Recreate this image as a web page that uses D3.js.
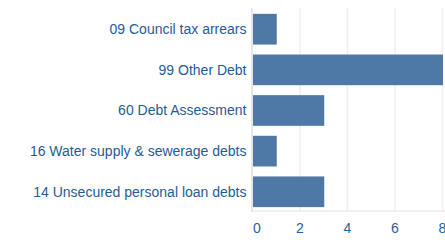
<!DOCTYPE html>
<html>
<head>
<meta charset="utf-8">
<script src="https://cdn.jsdelivr.net/npm/d3@7"></script>
<style>
  body { margin: 0; background: #fff; }
  svg text { font-family: "Liberation Sans", Arial, sans-serif; }
</style>
</head>
<body>
<div id="chart"></div>
<script>
// chart data
const categories = [
  '09 Council tax arrears',
  '99 Other Debt',
  '60 Debt Assessment',
  '16 Water supply & sewerage debts',
  '14 Unsecured personal loan debts'
];
const counts = [1, 8, 3, 1, 3];
const xTicks = [0, 2, 4, 6, 8];

const width = 445;
const height = 244;
const margin = {top: 9, right: 2, bottom: 32, left: 252.5};

const svg = d3.select('#chart')
  .append('svg')
  .attr('width', width)
  .attr('height', height);

const x = d3.scaleLinear()
  .domain([0, 8])
  .range([margin.left, width - margin.right - 0.5]);

const y = d3.scaleBand()
  .domain(categories)
  .range([margin.top, height - margin.bottom])
  .paddingInner(0.245)
  .paddingOuter(0.12);

// grid lines
svg.append('g')
  .selectAll('line')
  .data(xTicks.slice(1))
  .join('line')
  .attr('x1', d => x(d))
  .attr('x2', d => x(d))
  .attr('y1', margin.top - 1)
  .attr('y2', height - margin.bottom)
  .attr('stroke', '#efefef')
  .attr('stroke-width', 1.5);

// bottom line
svg.append('line')
  .attr('x1', margin.left)
  .attr('x2', width)
  .attr('y1', height - margin.bottom - 1)
  .attr('y2', height - margin.bottom - 1)
  .attr('stroke', '#ececec')
  .attr('stroke-width', 1.5);

// left axis line
svg.append('line')
  .attr('x1', margin.left - 0.5)
  .attr('x2', margin.left - 0.5)
  .attr('y1', margin.top - 1)
  .attr('y2', height - margin.bottom)
  .attr('stroke', '#dedede')
  .attr('stroke-width', 1.5);

// bars
svg.append('g')
  .selectAll('rect')
  .data(counts)
  .join('rect')
  .attr('x', x(0) + 0.5)
  .attr('y', (d, i) => y(categories[i]))
  .attr('width', d => x(d) - x(0))
  .attr('height', y.bandwidth())
  .attr('fill', '#4e79a7');

// category labels
svg.append('g')
  .selectAll('text')
  .data(categories)
  .join('text')
  .attr('x', margin.left - 6)
  .attr('y', d => y(d) + y.bandwidth() / 2)
  .attr('dy', '0.35em')
  .attr('text-anchor', 'end')
  .attr('font-size', 14)
  .attr('fill', '#1f5b97')
  .text(d => d);

// x tick labels (first one nudged right of the axis line)
svg.append('g')
  .selectAll('text')
  .data(xTicks)
  .join('text')
  .attr('x', d => x(d) + (d === 0 ? 4.5 : 0))
  .attr('y', 228)
  .attr('dy', '0.35em')
  .attr('text-anchor', 'middle')
  .attr('font-size', 14)
  .attr('fill', '#2462a0')
  .text(d => d);
</script>
</body>
</html>
